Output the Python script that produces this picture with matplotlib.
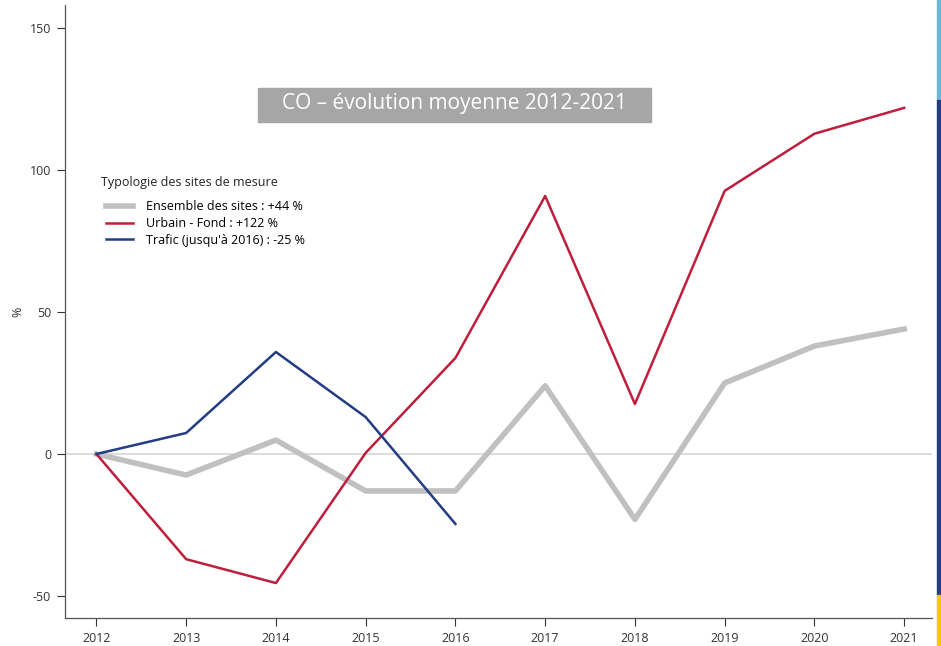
import numpy as np
import matplotlib.pyplot as plt
from matplotlib.patches import Rectangle

# data
years = [2012, 2013, 2014, 2015, 2016, 2017, 2018, 2019, 2020, 2021]
ensemble = [0, -7.4, 4.9, -13, -13, 24, -23, 25, 38, 44]
urbain_fond = [0, -37, -45.4, 0.4, 33.8, 90.8, 17.6, 92.6, 112.7, 121.8]
trafic_years = [2012, 2013, 2014, 2015, 2016]
trafic = [0, 7.4, 35.9, 13, -24.6]

labels = ["Ensemble des sites : +44 %",
          "Urbain - Fond : +122 %",
          "Trafic (jusqu'à 2016) : -25 %"]
legend_title = "Typologie des sites de mesure"
title = "CO – évolution moyenne 2012-2021"

plt.rcParams['font.family'] = ['Open Sans', 'DejaVu Sans']
plt.rcParams['axes.unicode_minus'] = False

fig = plt.figure(figsize=(9.41, 6.46), dpi=100)
ax = fig.add_axes([65 / 941, 1 - 618 / 646, (932 - 65) / 941, (618 - 5) / 646])

ax.axhline(0, color='#d9d9d9', lw=1.3, zorder=1)
ax.plot(years, ensemble, color='#c0c0c0', lw=4, label=labels[0], zorder=2)
ax.plot(years, urbain_fond, color='#be1e3c', lw=1.8, label=labels[1], zorder=3)
ax.plot(trafic_years, trafic, color='#233c82', lw=1.8, label=labels[2], zorder=4)

ax.set_xlim(2011.65, 2021.31)
ax.set_ylim(-57.7, 158)
ax.set_xticks(years)
ax.set_yticks([-50, 0, 50, 100, 150])
ax.tick_params(direction='out', length=6, width=0.8, colors='#333333', labelsize=9, pad=4)
for s in ['top', 'right']:
    ax.spines[s].set_visible(False)
for s in ['left', 'bottom']:
    ax.spines[s].set_color('#555555')
    ax.spines[s].set_linewidth(0.9)
ax.set_ylabel('%', fontsize=9, labelpad=4, color='#333333')

# legend (title placed as separate text to match spacing)
fig.text(101 / 941, 1 - 183 / 646, legend_title, ha='left', va='center',
         fontsize=9, color='#222222')
leg = ax.legend(loc='upper left',
                bbox_to_anchor=(100 / 941, 1 - 194 / 646), bbox_transform=fig.transFigure,
                frameon=False, fontsize=9, handlelength=2.1,
                handletextpad=1.1, labelspacing=0.3, borderpad=0)

# title box
fig.patches.append(Rectangle((258 / 941, 1 - 122 / 646), 393 / 941, 34 / 646,
                             transform=fig.transFigure, color='#a6a6a6'))
fig.text(454 / 941, 1 - 104 / 646, title, ha='center', va='center', color='white',
         fontsize=15)

# coloured strip on the right edge
fig.patches.append(Rectangle((937 / 941, 1 - 100 / 646), 4 / 941, 100 / 646,
                             transform=fig.transFigure, color='#6bb8d6'))
fig.patches.append(Rectangle((937 / 941, 1 - 595 / 646), 4 / 941, 495 / 646,
                             transform=fig.transFigure, color='#233c82'))
fig.patches.append(Rectangle((937 / 941, 0), 4 / 941, 51 / 646,
                             transform=fig.transFigure, color='#f5c800'))

fig.savefig('out.png', dpi=100)
